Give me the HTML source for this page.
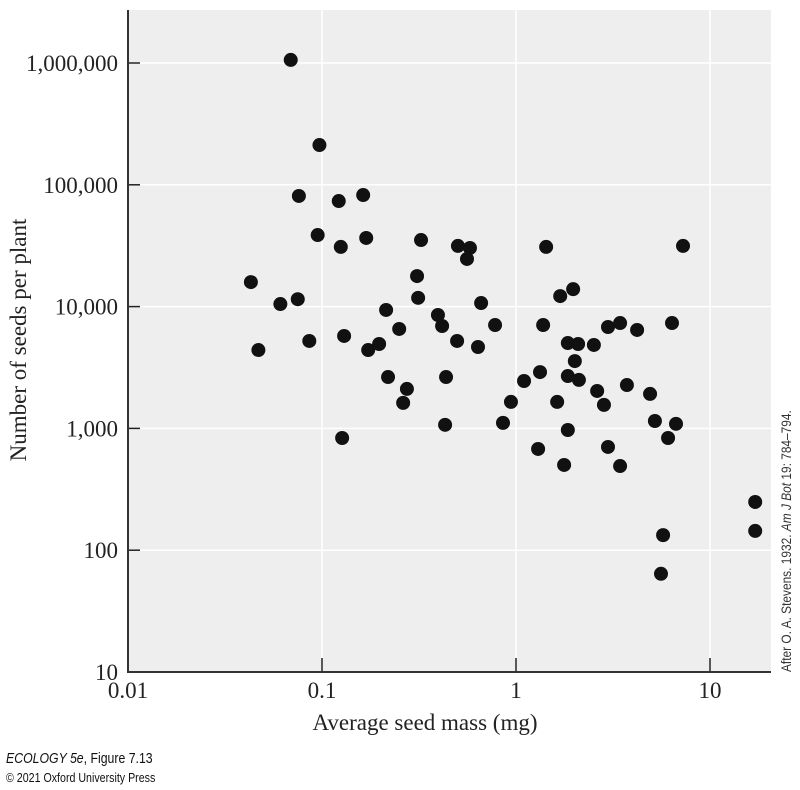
<!DOCTYPE html>
<html><head><meta charset="utf-8"><style>
body{margin:0;background:#fff;width:800px;height:790px;overflow:hidden}
svg{display:block}
.tk{font-family:"Liberation Serif",serif;font-size:23px;fill:#222}
</style></head><body>
<svg id="chart" width="800" height="790" viewBox="0 0 800 790" xmlns="http://www.w3.org/2000/svg">
<rect x="128" y="10" width="643" height="662" fill="#eeeeee"/>
<g id="grid"></g><g id="axes"></g><g id="pts"></g>
<text class="tk" font-size="24" transform="translate(26,340) rotate(-90)" text-anchor="middle">Number of seeds per plant</text>
<text class="tk" font-size="24" x="425" y="730" text-anchor="middle">Average seed mass (mg)</text>
<text font-family="Liberation Sans Narrow, Liberation Sans, sans-serif" font-size="14" fill="#333" transform="translate(791,672) rotate(-90) scale(0.85,1)">After O. A. Stevens. 1932. <tspan font-style="italic">Am J Bot</tspan> 19: 784–794.</text>
<text font-family="Liberation Sans Narrow, Liberation Sans, sans-serif" font-size="15" fill="#111" transform="translate(6,763) scale(0.82,1)"><tspan font-style="italic">ECOLOGY 5e</tspan>, Figure 7.13</text>
<text font-family="Liberation Sans Narrow, Liberation Sans, sans-serif" font-size="13" fill="#111" transform="translate(6,782) scale(0.82,1)">© 2021 Oxford University Press</text>
</svg>
<script>
const xTicks=[0.01,0.1,1,10];
const xTickLabels=["0.01","0.1","1","10"];
const yTicks=[10,100,1000,10000,100000,1000000];
const yTickLabels=["10","100","1,000","10,000","100,000","1,000,000"];
const seedMass=[0.069,0.097,0.076,0.122,0.163,0.095,0.125,0.169,0.043,0.061,0.075,0.086,0.130,0.047,0.214,0.173,0.197,0.250,0.219,0.324,0.502,0.579,0.559,0.309,0.313,0.661,1.43,7.26,1.69,1.97,0.396,0.416,0.780,0.497,0.637,1.38,2.98,3.44,4.21,6.37,1.85,2.09,2.52,2.01,0.274,0.262,0.436,0.431,1.10,1.33,1.85,2.11,0.942,0.857,2.62,3.73,4.91,1.63,2.84,5.20,6.68,6.08,1.85,1.30,2.98,1.77,3.44,17.1,17.1,5.73,5.59,0.127];
const seedCount=[1060000,212000,81000,73600,82400,38700,30900,36600,15900,10500,11500,5220,5740,4400,9380,4400,4930,6550,2640,35200,31500,30300,24600,17800,11800,10700,30900,31500,12200,13900,8530,6930,7060,5220,4660,7060,6800,7330,6430,7330,5020,4930,4840,3570,2110,1620,2640,1070,2450,2900,2690,2500,1650,1110,2030,2270,1920,1650,1560,1150,1090,834,970,678,704,501,491,249,144,133,64,834];
const NS="http://www.w3.org/2000/svg";
const X0=128,XD=194,Y0=672,YD=121.8;
function sx(v){return X0+(Math.log10(v)+2)*XD;}
function sy(v){return Y0-(Math.log10(v)-1)*YD;}
function mk(t,a,p){const e=document.createElementNS(NS,t);for(const k in a)e.setAttribute(k,a[k]);p.appendChild(e);return e;}
const grid=document.getElementById('grid'),axes=document.getElementById('axes'),pts=document.getElementById('pts');
xTicks.forEach((v,i)=>{const x=sx(v);
 if(i>0){const g=mk('line',{x1:x,x2:x,y1:10,y2:672,stroke:'#fff','stroke-width':1.5},grid);
 
 
 const t=mk('line',{x1:x,x2:x,y1:672,y2:658,stroke:'#222','stroke-width':1.5},axes);
 
 }
 const l=mk('text',{x:x,y:698,'text-anchor':'middle',class:'tk'},axes);l.textContent=xTickLabels[i];
 
 
});
yTicks.forEach((v,i)=>{const y=sy(v);
 if(i>0){const g=mk('line',{x1:128,x2:771,y1:y,y2:y,stroke:'#fff','stroke-width':1.5},grid);
 
 
 const t=mk('line',{x1:128,x2:140,y1:y,y2:y,stroke:'#222','stroke-width':1.5},axes);
 
 }
 const l=mk('text',{x:118,y:y+8,'text-anchor':'end',class:'tk'},axes);l.textContent=yTickLabels[i];
 
 
});
const ax=mk('path',{d:'M128,10 V672 H771',fill:'none',stroke:'#333','stroke-width':2},axes);


seedMass.forEach((m,i)=>{const c=mk('circle',{cx:sx(m),cy:sy(seedCount[i]),r:7,fill:'#111'},pts);
 
 
});
</script>
</body></html>
